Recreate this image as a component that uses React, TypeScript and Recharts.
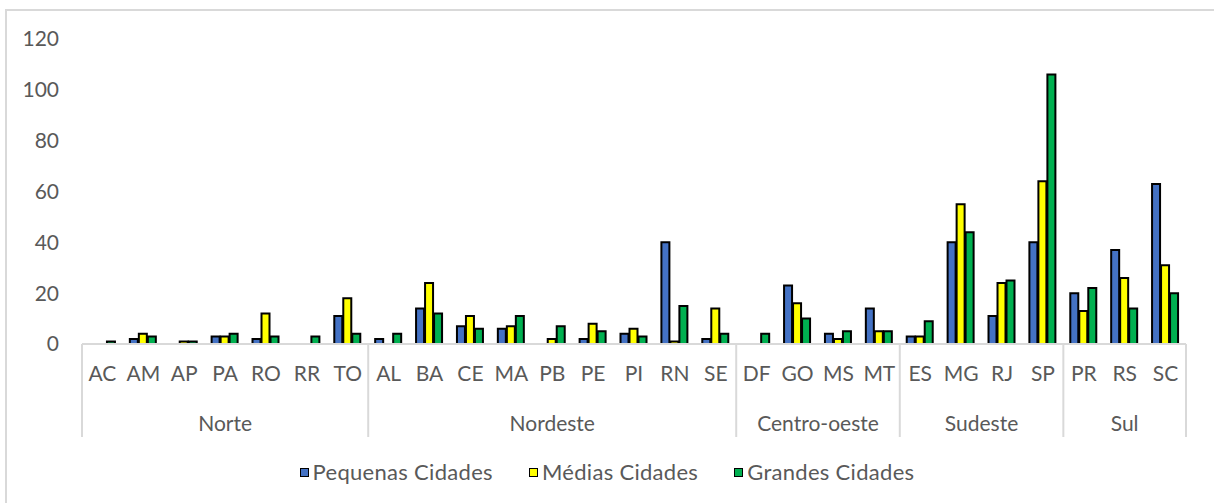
import { BarChart, Bar, XAxis, YAxis } from 'recharts';

const states = ['AC', 'AM', 'AP', 'PA', 'RO', 'RR', 'TO', 'AL', 'BA', 'CE', 'MA', 'PB', 'PE', 'PI', 'RN', 'SE', 'DF', 'GO', 'MS', 'MT', 'ES', 'MG', 'RJ', 'SP', 'PR', 'RS', 'SC'];
const regionNames = ['Norte', 'Nordeste', 'Centro-oeste', 'Sudeste', 'Sul'];
const regionSizes = [7, 9, 4, 4, 3];
const pequenas = [0, 2, 0, 3, 2, 0, 11, 2, 14, 7, 6, 0, 2, 4, 40, 2, 0, 23, 4, 14, 3, 40, 11, 40, 20, 37, 63];
const medias = [0, 4, 1, 3, 12, 0, 18, 0, 24, 11, 7, 2, 8, 6, 1, 14, 0, 16, 2, 5, 3, 55, 24, 64, 13, 26, 31];
const grandes = [1, 3, 1, 4, 3, 3, 4, 4, 12, 6, 11, 7, 5, 3, 15, 4, 4, 10, 5, 5, 9, 44, 25, 106, 22, 14, 20];
const yTicks = [0, 20, 40, 60, 80, 100, 120];

const seriesNames = ['Pequenas Cidades', 'Médias Cidades', 'Grandes Cidades'];
const seriesColors = ['#4472C4', '#FFFF00', '#00B050'];

const data = states.map((s, i) => ({
  state: s,
  pequenas: pequenas[i],
  medias: medias[i],
  grandes: grandes[i],
}));

const W = 1214;
const H = 503;
const PLOT_LEFT = 82;
const PLOT_RIGHT = 1186;
const BW = (PLOT_RIGHT - PLOT_LEFT) / states.length;
const FONT = 'Lato, sans-serif';
const TEXT = '#595959';
const LINE = '#d9d9d9';

// group start index -> region index
const groupStarts: Record<number, number> = {};
let acc = 0;
regionSizes.forEach((n, r) => {
  groupStarts[acc] = r;
  acc += n;
});

function StateTick(props: any) {
  const { x, y, payload, index } = props;
  const r = groupStarts[index];
  const isLast = index === states.length - 1;
  return (
    <g>
      <text x={x} y={y + 28} textAnchor="middle" dominantBaseline="central" fill={TEXT} fontSize={21} fontFamily={FONT}>
        {payload.value}
      </text>
      {r !== undefined && (
        <>
          <line x1={x - BW / 2} x2={x - BW / 2} y1={y} y2={y + 93} stroke={LINE} strokeWidth={2} />
          <text
            x={x + ((regionSizes[r] - 1) / 2) * BW}
            y={y + 78}
            textAnchor="middle"
            dominantBaseline="central"
            fill={TEXT}
            fontSize={21}
            fontFamily={FONT}
          >
            {regionNames[r]}
          </text>
        </>
      )}
      {isLast && <line x1={x + BW / 2} x2={x + BW / 2} y1={y} y2={y + 93} stroke={LINE} strokeWidth={2} />}
    </g>
  );
}

export default function App() {
  return (
    <div style={{ position: 'absolute', left: 0, top: 0, width: W, height: H, overflow: 'hidden', background: '#fff' }}>
      <div
        style={{
          position: 'absolute',
          left: 5,
          top: 9,
          width: W + 20,
          height: H + 20,
          borderTop: `2px solid ${LINE}`,
          borderLeft: `2px solid ${LINE}`,
        }}
      />
      <div style={{ position: 'absolute', left: 0, top: 0 }}>
        <BarChart
          width={W}
          height={H}
          data={data}
          margin={{ top: 39, right: W - PLOT_RIGHT, left: 0, bottom: H - 437 }}
          barCategoryGap="17%"
          barGap={1}
        >
          <XAxis
            dataKey="state"
            interval={0}
            tickSize={0}
            tickMargin={0}
            height={93}
            axisLine={{ stroke: LINE, strokeWidth: 2 }}
            tickLine={false}
            tick={<StateTick />}
          />
          <YAxis
            width={PLOT_LEFT}
            domain={[0, 120]}
            ticks={yTicks}
            axisLine={false}
            tickLine={false}
            tickMargin={17}
            tick={{ fill: TEXT, fontSize: 21, fontFamily: FONT }}
          />
          <Bar dataKey="pequenas" name={seriesNames[0]} fill={seriesColors[0]} stroke="#000" strokeWidth={2} isAnimationActive={false} />
          <Bar dataKey="medias" name={seriesNames[1]} fill={seriesColors[1]} stroke="#000" strokeWidth={2} isAnimationActive={false} />
          <Bar dataKey="grandes" name={seriesNames[2]} fill={seriesColors[2]} stroke="#000" strokeWidth={2} isAnimationActive={false} />
        </BarChart>
      </div>
      <div
        style={{
          position: 'absolute',
          left: 0,
          top: 458,
          width: W,
          display: 'flex',
          justifyContent: 'center',
          gap: 36,
          fontFamily: FONT,
          fontSize: 22,
          letterSpacing: 0.3,
          color: TEXT,
          lineHeight: '28px',
        }}
      >
        {seriesNames.map((n, i) => (
          <div key={n} style={{ display: 'flex', alignItems: 'center' }}>
            <span
              style={{
                display: 'inline-block',
                width: 7,
                height: 7,
                background: seriesColors[i],
                border: '1.5px solid #000',
                marginRight: 4,
              }}
            />
            {n}
          </div>
        ))}
      </div>
    </div>
  );
}
